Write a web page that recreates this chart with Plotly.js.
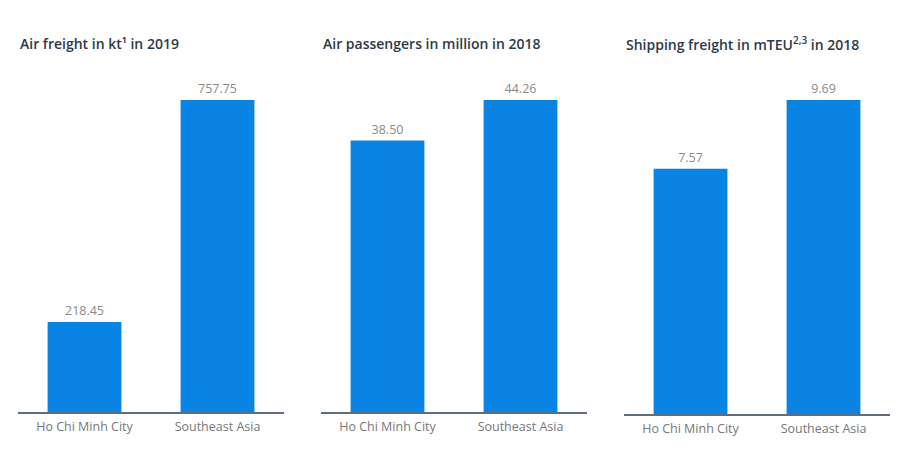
<!DOCTYPE html>
<html><head><meta charset="utf-8">
<script src="https://cdn.plot.ly/plotly-3.0.1.min.js"></script>
<style>html,body{margin:0;padding:0;background:#fff}#c{width:907px;height:459px}</style>
</head><body><div id="c"></div>
<script>
const categories = ["Ho Chi Minh City", "Southeast Asia"];
const airFreight = [218.45, 757.75];
const airPassengers = [38.50, 44.26];
const shippingFreight = [7.57, 9.69];
const panelTitles = ["Air freight in kt¹ in 2019", "Air passengers in million in 2018", "Shipping freight in mTEU<sup><span style=\"font-size:10px\">2,3</span></sup> in 2018"];

const W = 907, H = 459;
const barColor = "#0A84E4";
const font = "Open Sans, sans-serif";
const series = [airFreight, airPassengers, shippingFreight];
const xPix = [[18, 284], [321, 587], [624, 890]];
const yBottom = [412, 412, 414];
const yTop = 100;

const traces = series.map((vals, i) => ({
  type: "bar",
  x: categories,
  y: vals,
  xaxis: i === 0 ? "x" : "x" + (i + 1),
  yaxis: i === 0 ? "y" : "y" + (i + 1),
  marker: {color: barColor},
  text: vals.map(v => v.toFixed(2)),
  textposition: "outside",
  cliponaxis: false,
  textfont: {family: font, size: 12.5, color: "#8a8a8a"},
  hoverinfo: "none"
}));

const layout = {
  width: W, height: H,
  margin: {l: 0, r: 0, t: 0, b: 0},
  paper_bgcolor: "#fff", plot_bgcolor: "#fff",
  showlegend: false,
  bargap: 0.445,
  annotations: panelTitles.map((t, i) => ({
    text: t,
    xref: "paper", yref: "paper",
    x: xPix[i][0] / W, y: 1 - 43 / H,
    xanchor: "left", yanchor: "middle",
    showarrow: false,
    font: {family: font, size: 14, color: "#2b3a4a", weight: 600}
  }))
};

series.forEach((vals, i) => {
  const xk = i === 0 ? "xaxis" : "xaxis" + (i + 1);
  const yk = i === 0 ? "yaxis" : "yaxis" + (i + 1);
  layout[xk] = {
    domain: [xPix[i][0] / W, xPix[i][1] / W],
    anchor: i === 0 ? "y" : "y" + (i + 1),
    showline: true, linecolor: "#5f6e7c", linewidth: 1.5,
    showgrid: false, zeroline: false,
    ticks: "outside", ticklen: 2, tickcolor: "rgba(0,0,0,0)",
    tickfont: {family: font, size: 12.5, color: "#777"},
    fixedrange: true
  };
  layout[yk] = {
    domain: [1 - yBottom[i] / H, 1 - yTop / H],
    anchor: i === 0 ? "x" : "x" + (i + 1),
    range: [0, Math.max(...vals)],
    visible: false, showgrid: false, zeroline: false,
    fixedrange: true
  };
});

Plotly.newPlot("c", traces, layout, {displayModeBar: false, staticPlot: true});
</script></body></html>
